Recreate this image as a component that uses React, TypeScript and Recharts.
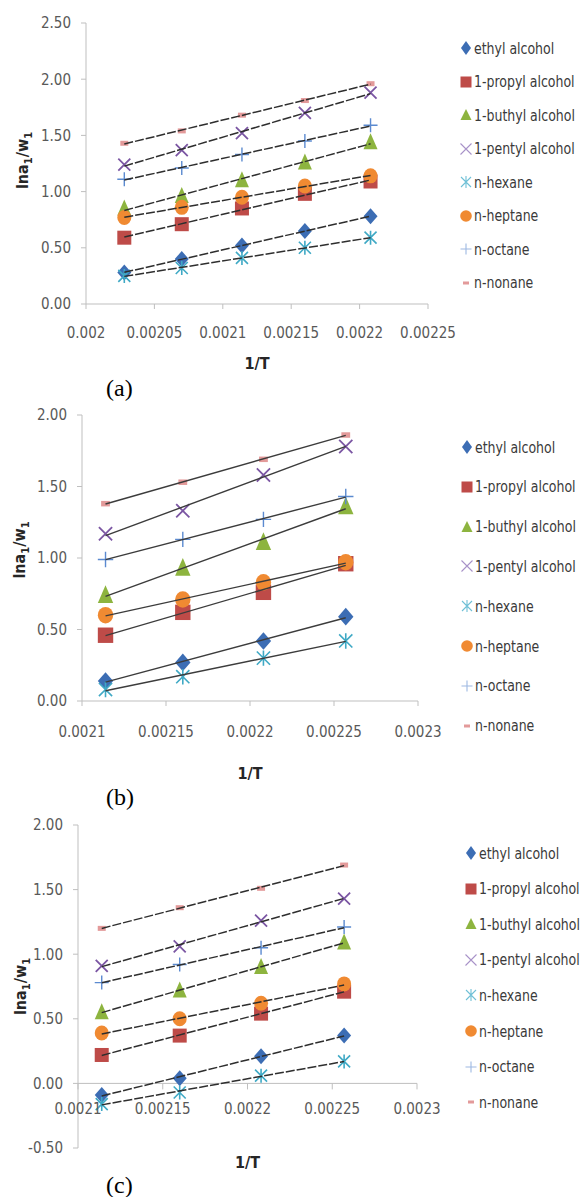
import { Label, ReferenceLine, Scatter, ScatterChart, XAxis, YAxis } from 'recharts'

const FONT = '"Liberation Sans Narrow", "DejaVu Sans Condensed", "Open Sans", sans-serif'
const AXIS = '#BFBFBF'
const TICK_TEXT = '#595959'
const TICK_SIZE = 15

const seriesNames = [
    'ethyl alcohol',
    '1-propyl alcohol',
    '1-buthyl alcohol',
    '1-pentyl alcohol',
    'n-hexane',
    'n-heptane',
    'n-octane',
    'n-nonane',
]
const markerKinds = ['diamond', 'square', 'triangle', 'cross', 'star', 'circle', 'plus', 'dash']
const markerColors = ['#3C6DB4', '#BE4B48', '#8DB43F', '#7B56A3', '#3FA9C5', '#F08A32', '#5B8AD0', '#E39A9A']
const legendColors = ['#3C6DB4', '#BE4B48', '#8DB43F', '#A892C8', '#6FC0D6', '#F08A32', '#9DB8E2', '#E39A9A']

// 1/T (K^-1)
const invTA = [0.002028, 0.00207, 0.002114, 0.00216, 0.002208]
const invTB = [0.002114, 0.00216, 0.002208, 0.002257]
const invTC = [0.002114, 0.00216, 0.002208, 0.002257]

// ln(a1)/w1 - panel (a)
const ethylA = [0.28, 0.4, 0.52, 0.65, 0.78]
const propylA = [0.59, 0.71, 0.85, 0.98, 1.09]
const buthylA = [0.85, 0.96, 1.1, 1.26, 1.44]
const pentylA = [1.24, 1.37, 1.52, 1.7, 1.88]
const hexaneA = [0.25, 0.32, 0.41, 0.5, 0.59]
const heptaneA = [0.77, 0.86, 0.95, 1.05, 1.14]
const octaneA = [1.11, 1.21, 1.33, 1.45, 1.59]
const nonaneA = [1.43, 1.54, 1.68, 1.81, 1.96]

// panel (b)
const ethylB = [0.14, 0.27, 0.42, 0.59]
const propylB = [0.46, 0.62, 0.76, 0.96]
const buthylB = [0.74, 0.93, 1.11, 1.36]
const pentylB = [1.17, 1.33, 1.58, 1.78]
const hexaneB = [0.08, 0.17, 0.3, 0.42]
const heptaneB = [0.6, 0.71, 0.83, 0.97]
const octaneB = [0.99, 1.13, 1.27, 1.43]
const nonaneB = [1.38, 1.53, 1.69, 1.86]

// panel (c)
const ethylC = [-0.09, 0.04, 0.21, 0.37]
const propylC = [0.22, 0.37, 0.54, 0.71]
const buthylC = [0.55, 0.72, 0.9, 1.09]
const pentylC = [0.91, 1.06, 1.26, 1.43]
const hexaneC = [-0.16, -0.07, 0.06, 0.17]
const heptaneC = [0.39, 0.5, 0.62, 0.77]
const octaneC = [0.78, 0.92, 1.05, 1.21]
const nonaneC = [1.2, 1.36, 1.51, 1.69]

const xTicksA = [0.002, 0.00205, 0.0021, 0.00215, 0.0022, 0.00225]
const xTicksBC = [0.0021, 0.00215, 0.0022, 0.00225, 0.0023]
const yTicksA = [0, 0.5, 1, 1.5, 2, 2.5]
const yTicksB = [0, 0.5, 1, 1.5, 2]
const yTicksC = [-0.5, 0, 0.5, 1, 1.5, 2]

const toRows = (xs: number[], ys: number[]) => xs.map((x, i) => ({ x, y: ys[i] }))

function Marker({ kind, color, cx, cy, s }: any) {
    if (cx == null || cy == null) return <g />
    switch (kind) {
        case 'diamond':
            return <polygon points={`${cx},${cy - 8 * s} ${cx + 7 * s},${cy} ${cx},${cy + 8 * s} ${cx - 7 * s},${cy}`} fill={color} />
        case 'square':
            return <rect x={cx - 7 * s} y={cy - 7 * s} width={14 * s} height={14 * s} fill={color} />
        case 'triangle':
            return <polygon points={`${cx},${cy - 9 * s} ${cx + 7 * s},${cy + 7 * s} ${cx - 7 * s},${cy + 7 * s}`} fill={color} />
        case 'cross':
            return (
                <path
                    d={`M${cx - 6 * s},${cy - 6 * s}L${cx + 6 * s},${cy + 6 * s}M${cx + 6 * s},${cy - 6 * s}L${cx - 6 * s},${cy + 6 * s}`}
                    stroke={color}
                    strokeWidth={1.8}
                    fill="none"
                />
            )
        case 'star':
            return (
                <path
                    d={`M${cx - 6 * s},${cy - 6 * s}L${cx + 6 * s},${cy + 6 * s}M${cx + 6 * s},${cy - 6 * s}L${cx - 6 * s},${cy + 6 * s}M${cx},${cy - 7 * s}L${cx},${cy + 7 * s}`}
                    stroke={color}
                    strokeWidth={1.6}
                    fill="none"
                />
            )
        case 'circle':
            return <ellipse cx={cx} cy={cy} rx={7 * s} ry={7.5 * s} fill={color} />
        case 'plus':
            return (
                <path
                    d={`M${cx - 7 * s},${cy}L${cx + 7 * s},${cy}M${cx},${cy - 7 * s}L${cx},${cy + 7 * s}`}
                    stroke={color}
                    strokeWidth={1.4}
                    fill="none"
                />
            )
        default:
            return <rect x={cx - 4 * s} y={cy - 2.5 * s} width={8 * s} height={5 * s} fill={color} />
    }
}

const noMarker = () => <g />

function YTitle({ viewBox, x, dy }: any) {
    const cy = viewBox.y + viewBox.height / 2 + dy
    return (
        <text
            x={x}
            y={cy}
            transform={`rotate(-90 ${x} ${cy})`}
            textAnchor="middle"
            dominantBaseline="central"
            fontWeight="bold"
            fontSize={16}
            fill="#262626"
            fontFamily={FONT}
        >
            lna<tspan baselineShift="sub" fontSize={11}>1</tspan>/w<tspan baselineShift="sub" fontSize={11}>1</tspan>
        </text>
    )
}

function XTitle({ viewBox, dy }: any) {
    return (
        <text
            x={viewBox.x + viewBox.width / 2}
            y={viewBox.y + dy}
            textAnchor="middle"
            fontWeight="bold"
            fontSize={16}
            fill="#262626"
            fontFamily={FONT}
        >
            1/T
        </text>
    )
}

// x tick for a panel whose x axis crosses at y = 0 instead of the bottom
function ZeroAxisTick({ x, y, payload, shift }: any) {
    const y0 = y - shift
    return (
        <g>
            <line x1={x} x2={x} y1={y0} y2={y0 + 6} stroke={AXIS} />
            <text x={x} y={y0 + 31} textAnchor="middle" fill={TICK_TEXT} fontSize={TICK_SIZE} fontFamily={FONT}>
                {String(payload.value)}
            </text>
        </g>
    )
}

function LegendIcon({ kind, color }: { kind: string; color: string }) {
    switch (kind) {
        case 'diamond':
            return <polygon points="7,3 12,10 7,17 2,10" fill={color} />
        case 'square':
            return <rect x={1.5} y={4.5} width={11} height={11} fill={color} />
        case 'triangle':
            return <polygon points="7,4 12.5,15 1.5,15" fill={color} />
        case 'cross':
            return <path d="M1.5,4.5L12.5,15.5M12.5,4.5L1.5,15.5" stroke={color} strokeWidth={1.1} fill="none" />
        case 'star':
            return <path d="M2,5L12,15M12,5L2,15M7,4L7,16" stroke={color} strokeWidth={1.1} fill="none" />
        case 'circle':
            return <circle cx={7} cy={10} r={5.8} fill={color} />
        case 'plus':
            return <path d="M1.5,10L12.5,10M7,4.5L7,15.5" stroke={color} strokeWidth={1.1} fill="none" />
        default:
            return <rect x={4} y={8.5} width={6} height={3} fill={color} />
    }
}

function SeriesLegend({ left, top, step }: { left: number; top: number; step: number }) {
    return (
        <div style={{ position: 'absolute', left, top }}>
            {seriesNames.map((name, i) => (
                <div
                    key={name}
                    style={{
                        position: 'absolute',
                        left: 0,
                        top: i * step - 10,
                        height: 20,
                        display: 'flex',
                        alignItems: 'center',
                        whiteSpace: 'nowrap',
                    }}
                >
                    <svg width={14} height={20}>
                        <LegendIcon kind={markerKinds[i]} color={legendColors[i]} />
                    </svg>
                    <span
                        style={{
                            marginLeft: 1,
                            fontSize: 16,
                            color: '#3a3a3a',
                            fontFamily: FONT,
                            display: 'inline-block',
                            transform: 'scaleX(0.87)',
                            transformOrigin: 'left center',
                        }}
                    >
                        {name}
                    </span>
                </div>
            ))}
        </div>
    )
}

type PanelProps = {
    top: number
    height: number
    xs: number[]
    values: number[][]
    xDomain: [number, number]
    xTicks: number[]
    yDomain: [number, number]
    yTicks: number[]
    margin: { top: number; right: number; bottom: number; left: number }
    yAxisWidth: number
    xAxisHeight: number
    xTickMargin: number
    xTitleDy: number
    yTitleX: number
    yTitleDy: number
    markerScale: number
    trend: { stroke: string; strokeWidth: number; strokeDasharray?: string }
    zeroShift?: number
    legend: { left: number; top: number; step: number }
    caption: { text: string; top: number }
}

function Panel(p: PanelProps) {
    const tickStyle = { fill: TICK_TEXT, fontSize: TICK_SIZE, fontFamily: FONT }
    const rows = p.values.map((v) => toRows(p.xs, v))
    return (
        <>
            <div style={{ position: 'absolute', left: 0, top: p.top }}>
                <ScatterChart width={582} height={p.height} margin={p.margin}>
                    <XAxis
                        type="number"
                        dataKey="x"
                        domain={p.xDomain}
                        ticks={p.xTicks}
                        interval={0}
                        height={p.xAxisHeight}
                        axisLine={p.zeroShift ? false : { stroke: AXIS }}
                        tickLine={p.zeroShift ? false : { stroke: AXIS }}
                        tickSize={p.zeroShift ? 0 : 5}
                        tickMargin={p.zeroShift ? 0 : p.xTickMargin}
                        tick={p.zeroShift ? (props: any) => <ZeroAxisTick {...props} shift={p.zeroShift} /> : tickStyle}
                        tickFormatter={(v: number) => String(v)}
                    >
                        <Label content={(props: any) => <XTitle {...props} dy={p.xTitleDy} />} />
                    </XAxis>
                    <YAxis
                        type="number"
                        dataKey="y"
                        domain={p.yDomain}
                        ticks={p.yTicks}
                        interval={0}
                        width={p.yAxisWidth}
                        axisLine={{ stroke: AXIS }}
                        tickLine={{ stroke: AXIS }}
                        tickSize={5}
                        tickMargin={10}
                        tick={tickStyle}
                        tickFormatter={(v: number) => v.toFixed(2)}
                    >
                        <Label content={(props: any) => <YTitle {...props} x={p.yTitleX} dy={p.yTitleDy} />} />
                    </YAxis>
                    {p.zeroShift ? <ReferenceLine y={0} stroke={AXIS} /> : null}
                    {rows.map((data, i) => (
                        <Scatter
                            key={`pts-${i}`}
                            name={seriesNames[i]}
                            data={data}
                            isAnimationActive={false}
                            shape={(props: any) => (
                                <Marker kind={markerKinds[i]} color={markerColors[i]} cx={props.cx} cy={props.cy} s={p.markerScale} />
                            )}
                        />
                    ))}
                    {/* linear trendlines, drawn over the markers */}
                    {rows.map((data, i) => (
                        <Scatter
                            key={`fit-${i}`}
                            data={data}
                            isAnimationActive={false}
                            legendType="none"
                            line={p.trend}
                            lineType="fitting"
                            shape={noMarker}
                        />
                    ))}
                </ScatterChart>
            </div>
            <SeriesLegend {...p.legend} />
            <div
                style={{
                    position: 'absolute',
                    left: 106,
                    top: p.caption.top,
                    fontFamily: '"Liberation Serif", "Times New Roman", serif',
                    fontSize: 24,
                    lineHeight: '28px',
                    color: '#000',
                }}
            >
                {p.caption.text}
            </div>
        </>
    )
}

const dashedTrend = { stroke: '#2e2e2e', strokeWidth: 1.5, strokeDasharray: '9 2' }
const solidTrend = { stroke: '#3c3c3c', strokeWidth: 1.4 }

export default function App() {
    return (
        <div style={{ position: 'absolute', left: 0, top: 0, width: 582, height: 1197, background: '#fff', overflow: 'hidden' }}>
            <Panel
                top={0}
                height={380}
                xs={invTA}
                values={[ethylA, propylA, buthylA, pentylA, hexaneA, heptaneA, octaneA, nonaneA]}
                xDomain={[0.002, 0.00225]}
                xTicks={xTicksA}
                yDomain={[0, 2.5]}
                yTicks={yTicksA}
                margin={{ top: 23, right: 154, bottom: 46, left: 0 }}
                yAxisWidth={86}
                xAxisHeight={30}
                xTickMargin={18}
                xTitleDy={65}
                yTitleX={22}
                yTitleDy={-3}
                markerScale={1}
                trend={dashedTrend}
                legend={{ left: 459, top: 48, step: 33.5 }}
                caption={{ text: '(a)', top: 374 }}
            />
            <Panel
                top={380}
                height={420}
                xs={invTB}
                values={[ethylB, propylB, buthylB, pentylB, hexaneB, heptaneB, octaneB, nonaneB]}
                xDomain={[0.0021, 0.0023]}
                xTicks={xTicksBC}
                yDomain={[0, 2]}
                yTicks={yTicksB}
                margin={{ top: 35, right: 164, bottom: 69, left: 0 }}
                yAxisWidth={82}
                xAxisHeight={30}
                xTickMargin={20}
                xTitleDy={78}
                yTitleX={19}
                yTitleDy={-8}
                markerScale={1.1}
                trend={solidTrend}
                legend={{ left: 460, top: 447, step: 39.8 }}
                caption={{ text: '(b)', top: 783 }}
            />
            <Panel
                top={800}
                height={397}
                xs={invTC}
                values={[ethylC, propylC, buthylC, pentylC, hexaneC, heptaneC, octaneC, nonaneC]}
                xDomain={[0.0021, 0.0023]}
                xTicks={xTicksBC}
                yDomain={[-0.5, 2]}
                yTicks={yTicksC}
                margin={{ top: 25, right: 165, bottom: 48, left: 0 }}
                yAxisWidth={78}
                xAxisHeight={1}
                xTickMargin={0}
                xTitleDy={20}
                yTitleX={20}
                yTitleDy={0}
                markerScale={1}
                trend={dashedTrend}
                zeroShift={64.6}
                legend={{ left: 464, top: 853, step: 35.6 }}
                caption={{ text: '(c)', top: 1171 }}
            />
        </div>
    )
}
